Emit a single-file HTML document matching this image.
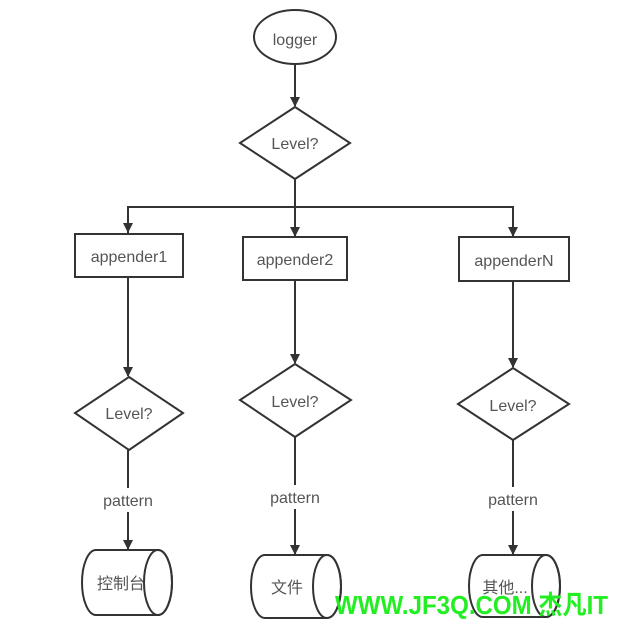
<!DOCTYPE html>
<html><head><meta charset="utf-8"><style>html,body{margin:0;padding:0;background:#fff}</style></head>
<body>
<svg width="618" height="624" viewBox="0 0 618 624" xmlns="http://www.w3.org/2000/svg" font-family="Liberation Sans, Noto Sans CJK SC, sans-serif">
<defs><marker id="a" markerWidth="10" markerHeight="10" refX="9" refY="5" orient="auto" markerUnits="userSpaceOnUse"><path d="M0,0 L10,5 L0,10 z" fill="#333"/></marker></defs>
<g stroke="#333" stroke-width="2" fill="none">
<ellipse cx="295" cy="37" rx="41" ry="27" fill="#fff"/>
<line x1="295" y1="64" x2="295" y2="106" marker-end="url(#a)"/>
<polygon points="295,107 350,143 295,179 240,143" fill="#fff"/>
<line x1="295" y1="179" x2="295" y2="236" marker-end="url(#a)"/>
<polyline points="128,233 128,207 513,207 513,236" marker-end="url(#a)"/>
<line x1="128" y1="220" x2="128" y2="232" marker-end="url(#a)"/>
<rect x="75" y="234" width="108" height="43" fill="#fff"/>
<rect x="243" y="237" width="104" height="43" fill="#fff"/>
<rect x="459" y="237" width="110" height="44" fill="#fff"/>
<line x1="128" y1="277" x2="128" y2="376" marker-end="url(#a)"/>
<line x1="295" y1="280" x2="295" y2="363" marker-end="url(#a)"/>
<line x1="513" y1="281" x2="513" y2="367" marker-end="url(#a)"/>
<polygon points="129,377 183,413 129,450 75,413" fill="#fff"/>
<polygon points="295,364 351,400 295,437 240,400" fill="#fff"/>
<polygon points="513,368 569,404 513,440 458,404" fill="#fff"/>
<line x1="128" y1="450" x2="128" y2="549" marker-end="url(#a)"/>
<line x1="295" y1="437" x2="295" y2="554" marker-end="url(#a)"/>
<line x1="513" y1="440" x2="513" y2="554" marker-end="url(#a)"/>
<path d="M96,550 L158,550 A14,32.5 0 0 1 158,615 L96,615 A14,32.5 0 0 1 96,550 Z" fill="#fff"/>
<ellipse cx="158" cy="582.5" rx="14" ry="32.5"/>
<path d="M265,555 L327,555 A14,31.5 0 0 1 327,618 L265,618 A14,31.5 0 0 1 265,555 Z" fill="#fff"/>
<ellipse cx="327" cy="586.5" rx="14" ry="31.5"/>
<path d="M483,555 L546,555 A14,31 0 0 1 546,617 L483,617 A14,31 0 0 1 483,555 Z" fill="#fff"/>
<ellipse cx="546" cy="586" rx="14" ry="31"/>
</g>
<g fill="#fff"><rect x="98" y="488" width="60" height="24"/><rect x="265" y="485" width="60" height="24"/><rect x="483" y="487" width="60" height="24"/></g>
<g fill="#555" font-size="16" text-anchor="middle">
<text x="295" y="45">logger</text>
<text x="295" y="149">Level?</text>
<text x="129" y="262">appender1</text>
<text x="295" y="265">appender2</text>
<text x="514" y="266">appenderN</text>
<text x="129" y="419">Level?</text>
<text x="295" y="407">Level?</text>
<text x="513" y="411">Level?</text>
<text x="128" y="506">pattern</text>
<text x="295" y="503">pattern</text>
<text x="513" y="505">pattern</text>
<text x="121" y="589">控制台</text>
<text x="287" y="593">文件</text>
<text x="505" y="593">其他...</text>
</g>
<text x="335" y="614" font-size="26" font-weight="bold" fill="#22ee22" textLength="273" lengthAdjust="spacingAndGlyphs">WWW.JF3Q.COM 杰凡IT</text>
</svg>
</body></html>
